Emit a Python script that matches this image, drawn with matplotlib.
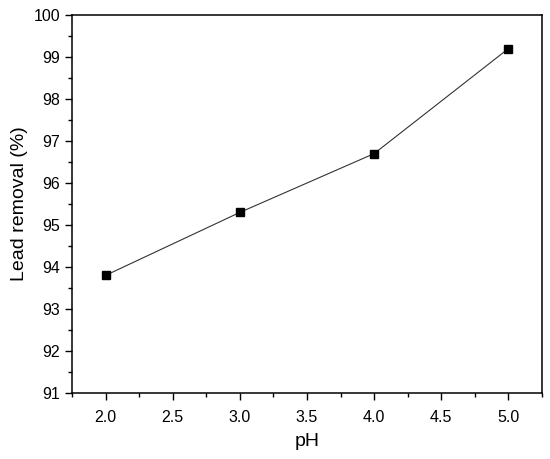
import matplotlib
matplotlib.use("Agg")
import matplotlib.pyplot as plt
from matplotlib.ticker import MultipleLocator

# data
ph = [2.0, 3.0, 4.0, 5.0]
removal = [93.8, 95.3, 96.7, 99.2]

plt.rcParams['font.family'] = ['Liberation Sans', 'DejaVu Sans']

fig = plt.figure(figsize=(5.5, 4.59), dpi=100)
ax = fig.add_axes([72 / 550, 1 - 393 / 459, 470 / 550, 378 / 459])

ax.plot(ph, removal, '-', color='#333333', lw=0.8,
        marker='s', ms=6, mfc='black', mec='black')

ax.set_xlim(1.75, 5.25)
ax.set_ylim(91, 100)
ax.xaxis.set_minor_locator(MultipleLocator(0.25))
ax.yaxis.set_major_locator(MultipleLocator(1))
ax.yaxis.set_minor_locator(MultipleLocator(0.5))
ax.set_xticks([2.0, 2.5, 3.0, 3.5, 4.0, 4.5, 5.0])
ax.set_xticklabels(["2.0", "2.5", "3.0", "3.5", "4.0", "4.5", "5.0"])

ax.tick_params(which='major', direction='out', length=5, width=1,
               labelsize=11.5, top=False, right=False)
ax.tick_params(axis='x', which='major', pad=7)
ax.tick_params(which='minor', direction='out', length=3, width=1,
               top=False, right=False)
for s in ax.spines.values():
    s.set_linewidth(1.1)

ax.set_xlabel("pH", fontsize=14, labelpad=6)
ax.set_ylabel("Lead removal (%)", fontsize=14)
ax.yaxis.set_label_coords(-(72 - 28) / 470, 0.5)

fig.savefig("out.png", dpi=100)
